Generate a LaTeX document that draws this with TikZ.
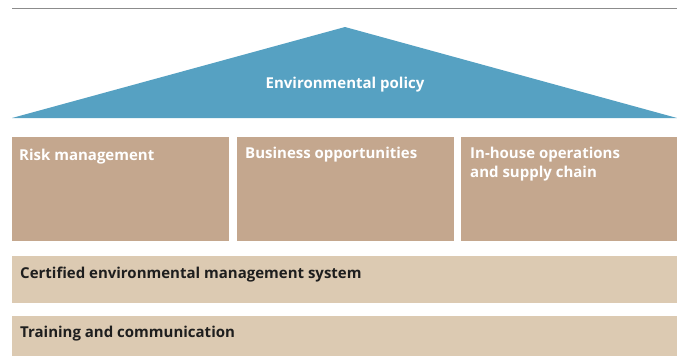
\documentclass[tikz,border=0pt]{standalone}
\usepackage{fontspec}
\setmainfont{Open Sans}
\usetikzlibrary{positioning}
\definecolor{roofblue}{HTML}{56A1C2}
\definecolor{pillarbrown}{HTML}{C4A78E}
\definecolor{bandbeige}{HTML}{DCCAB2}
\definecolor{rulegray}{HTML}{8C8C8C}
\definecolor{darktext}{HTML}{1E1E1E}

\begin{document}
\begin{tikzpicture}[
    x=1pt, y=-1pt,
    node distance=8pt and 8pt,
    pillar/.style={rectangle, fill=pillarbrown, minimum width=217pt, minimum height=104pt, inner sep=0pt, outer sep=0pt},
    band/.style={rectangle, fill=bandbeige, minimum width=665pt, minimum height=#1, inner sep=0pt, outer sep=0pt},
    head/.style={anchor=base west, inner sep=0pt, align=left, text=white, font=\fontsize{15}{19}\selectfont\bfseries},
    bandtext/.style={anchor=base west, inner sep=0pt, text=darktext, font=\fontsize{15}{19}\selectfont\bfseries},
    rooftext/.style={anchor=base, inner sep=0pt, text=white, font=\fontsize{15}{19}\selectfont\bfseries}
]
\useasboundingbox (0,0) rectangle (677,356);

% rule at the top
\coordinate (ruleL) at (12,8);
\coordinate (ruleR) at (677,8);
\draw[rulegray, line width=1pt] (ruleL) -- (ruleR);

% roof
\coordinate (roofL) at (12,118);
\coordinate (roofT) at (345,27);
\coordinate (roofR) at (677,118);
\fill[roofblue] (roofL) -- (roofT) -- (roofR) -- cycle;
\node[rooftext] (policy) at (345,88) {Environmental policy};

% pillars
\node[pillar, anchor=north west] (risk) at (12,137) {};
\node[pillar, right=8pt of risk] (business) {};
\node[pillar, right=7pt of business, minimum width=216pt] (inhouse) {};

\node[head] (risklbl) at ([shift={(7,23)}]risk.north west) {Risk management};
\node[head] (businesslbl) at ([shift={(8,21)}]business.north west) {Business opportunities};
% base is the last line here
\node[head] (inhouselbl) at ([shift={(9,40)}]inhouse.north west) {In-house operations\\and supply chain};

% foundation
\node[band=47pt, below=15pt of risk.south west, anchor=north west] (ems) {};
\node[band=40pt, below=13pt of ems.south west, anchor=north west] (training) {};

\node[bandtext] (emslbl) at ([shift={(8,22)}]ems.north west) {Certified environmental management system};
\node[bandtext] (traininglbl) at ([shift={(8,21)}]training.north west) {Training and communication};
\end{tikzpicture}
\end{document}
